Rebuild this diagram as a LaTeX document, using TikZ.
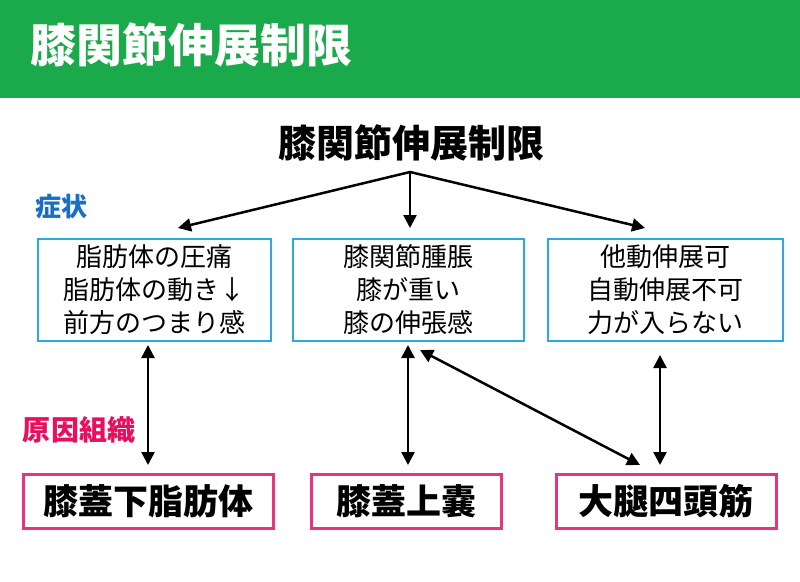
\documentclass[tikz,border=0pt]{standalone}
\usepackage{fontspec}
\setmainfont{Noto Sans CJK JP}
\usetikzlibrary{arrows.meta}
\definecolor{hdr}{HTML}{1BAA4B}
\definecolor{bl}{HTML}{29ABE2}
\definecolor{pk}{HTML}{E6357A}
\definecolor{bluet}{HTML}{1A6FC4}
\definecolor{pinkt}{HTML}{E8105E}
\begin{document}
\begin{tikzpicture}[x=1pt,y=-1pt,
 sym/.style={draw=bl,line width=2pt,minimum width=233pt,minimum height=102pt,align=center,font=\fontsize{26}{33}\selectfont,anchor=north west,inner sep=0pt},
 cause/.style={draw=pk,line width=2.5pt,minimum height=54pt,font=\fontsize{35}{38}\selectfont\bfseries,anchor=north west,inner sep=0pt},
 arr/.style={line width=2.5pt,-{Triangle[length=13pt,width=13pt]}},
 darr/.style={line width=2.5pt,{Triangle[length=13pt,width=13pt]}-{Triangle[length=13pt,width=13pt]}}]
\useasboundingbox (0,0) rectangle (800,581);
\fill[white] (0,0) rectangle (800,581);
\fill[hdr] (0,0) rectangle (800,98);
\node[text=white,font=\fontsize{46}{50}\selectfont\bfseries,anchor=west,inner sep=0pt] (hd) at (30,45) {膝関節伸展制限};
\node[font=\fontsize{38}{42}\selectfont\bfseries] (main) at (411,143) {膝関節伸展制限};
\node[text=bluet,font=\fontsize{26}{28}\selectfont\bfseries] (sy) at (61,207) {症状};
\node[text=pinkt,font=\fontsize{28}{30}\selectfont\bfseries] (gen) at (79,430) {原因組織};
\node[sym] (s1) at (37,238) {脂肪体の圧痛\\脂肪体の動き↓\\前方のつまり感};
\node[sym,minimum width=231pt] (s2) at (292,238) {膝関節腫脹\\膝が重い\\膝の伸張感};
\node[sym,minimum width=235pt] (s3) at (547,238) {他動伸展可\\自動伸展不可\\力が入らない};
\node[cause,minimum width=250pt] (c1) at (22,473) {膝蓋下脂肪体};
\node[cause,minimum width=190pt] (c2) at (310,473) {膝蓋上嚢};
\node[cause,minimum width=220pt] (c3) at (555,473) {大腿四頭筋};
\coordinate (o) at (410,172);
\draw[arr] (o) -- (178,228);
\draw[arr] (o) -- (410,228);
\draw[arr] (o) -- (645,228);
\draw[darr] (148,345) -- (148,465);
\draw[darr] (408,345) -- (408,465);
\draw[darr] (420,350) -- (640,465);
\draw[darr] (660,355) -- (660,465);
\end{tikzpicture}
\end{document}
